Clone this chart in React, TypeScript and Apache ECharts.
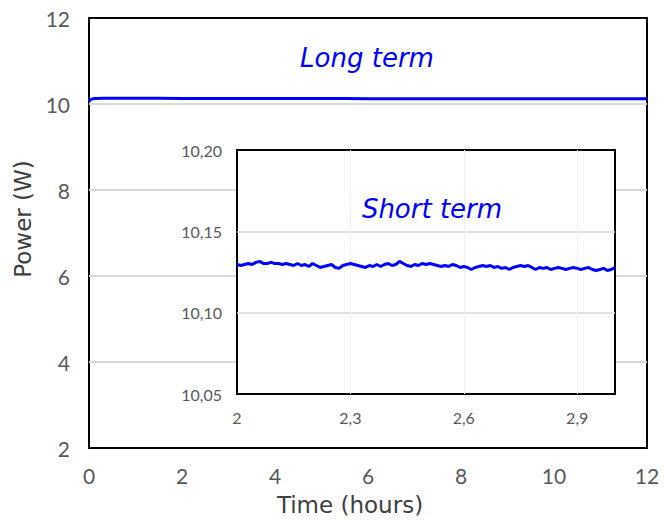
import React, { useEffect, useRef } from "react";
import * as echarts from "echarts";

// Long-term measurement (hours, W)
const longTimes = [0, 0.03, 0.08, 0.15, 0.3, 0.5, 1, 1.5, 2, 2.5, 3, 3.5, 4, 4.5, 5, 5.5, 6, 6.5, 7, 7.5, 8, 8.5, 9, 9.5, 10, 10.5, 11, 11.5, 12];
const longPower = [10.06, 10.1, 10.12, 10.13, 10.135, 10.134, 10.132, 10.131, 10.13, 10.129, 10.128, 10.128, 10.127, 10.127, 10.126, 10.126, 10.125, 10.125, 10.125, 10.124, 10.124, 10.124, 10.123, 10.123, 10.123, 10.123, 10.122, 10.122, 10.122];

// Short-term zoom (hours 2..3, step 0.01 h)
const shortStart = 2;
const shortStep = 0.01;
const shortPower = [
  10.1296, 10.129, 10.1296, 10.1302, 10.1296, 10.1309, 10.1315, 10.1302, 10.1302, 10.1309,
  10.1302, 10.1302, 10.1296, 10.1302, 10.1296, 10.129, 10.1302, 10.129, 10.1296, 10.1284,
  10.1302, 10.129, 10.1278, 10.1284, 10.129, 10.1296, 10.1278, 10.1272, 10.129, 10.1296,
  10.1302, 10.1296, 10.129, 10.1284, 10.1278, 10.129, 10.1284, 10.1296, 10.1284, 10.1296,
  10.1302, 10.129, 10.1296, 10.1315, 10.1302, 10.129, 10.1284, 10.1296, 10.129, 10.1302,
  10.1296, 10.1302, 10.1296, 10.129, 10.1284, 10.129, 10.1284, 10.1296, 10.129, 10.1278,
  10.1284, 10.1278, 10.1265, 10.1278, 10.1284, 10.129, 10.1284, 10.129, 10.1278, 10.1284,
  10.1272, 10.1278, 10.1265, 10.1278, 10.1284, 10.129, 10.1284, 10.129, 10.1278, 10.1265,
  10.1278, 10.1272, 10.1278, 10.1265, 10.1272, 10.1278, 10.1272, 10.1265, 10.1272, 10.1278,
  10.1272, 10.1265, 10.1272, 10.1278, 10.1265, 10.1259, 10.1265, 10.1272, 10.1259, 10.1265,
  10.1278,
];

const mainYTicks = [2, 12, 2]; // min, max, interval
const mainXTicks = [0, 12, 2];
const insetYTicks = [10.05, 10.2, 0.05];
const insetXTicks = [2, 3, 0.3];

const longLabel = "Long term";
const shortLabel = "Short term";
const yTitle = "Power (W)";
const xTitle = "Time (hours)";

const NUM_FONT = "Lato, 'Noto Sans', sans-serif";
const TXT_FONT = "'DejaVu Sans', 'Noto Sans', sans-serif";

export default function App() {
  const ref = useRef<HTMLDivElement>(null);
  useEffect(() => {
    if (!ref.current) return;
    const chart = echarts.init(ref.current, undefined, { renderer: "svg" });
    const longData = longTimes.map((t, i) => [t, longPower[i]]);
    const shortData = shortPower.map((v, i) => [+(shortStart + i * shortStep).toFixed(2), v]);
    const comma = (v: number, d: number) => (d === 0 ? String(v) : v.toFixed(d).replace(".", ","));
    const noMinMax = { showMinLine: false, showMaxLine: false };
    chart.setOption({
      animation: false,
      backgroundColor: "#fff",
      textStyle: { fontFamily: NUM_FONT },
      grid: [
        { left: 89, right: 23, top: 18, bottom: 71, show: true, borderColor: "#000", borderWidth: 2, backgroundColor: "transparent", z: 0 },
        { left: 237, right: 55, top: 150, bottom: 127, show: true, borderColor: "#000", borderWidth: 2, backgroundColor: "#fff", z: 3 },
      ],
      xAxis: [
        {
          type: "value", gridIndex: 0, min: mainXTicks[0], max: mainXTicks[1], interval: mainXTicks[2],
          axisLine: { show: false }, axisTick: { show: false }, splitLine: { show: false },
          axisLabel: { color: "#595959", fontSize: 21, margin: 17, fontFamily: NUM_FONT },
          name: xTitle, nameLocation: "middle", nameGap: 45,
          nameTextStyle: { color: "#404040", fontSize: 23, fontFamily: TXT_FONT, padding: [0, 36, 0, 0] },
        },
        {
          type: "value", gridIndex: 1, min: insetXTicks[0], max: insetXTicks[1], interval: insetXTicks[2], z: 4,
          axisLine: { show: false }, axisTick: { show: false },
          splitLine: { show: true, ...noMinMax, lineStyle: { color: "#f0f0f0", width: 1 } },
          axisLabel: { color: "#595959", fontSize: 16, margin: 15, fontFamily: NUM_FONT, showMaxLabel: false, formatter: (v: number) => comma(v, v === 2 ? 0 : 1) },
        },
      ],
      yAxis: [
        {
          type: "value", gridIndex: 0, min: mainYTicks[0], max: mainYTicks[1], interval: mainYTicks[2],
          axisLine: { show: false }, axisTick: { show: false },
          splitLine: { show: true, ...noMinMax, lineStyle: { color: "#d9d9d9", width: 2 } },
          axisLabel: { color: "#595959", fontSize: 21, margin: 19, fontFamily: NUM_FONT },
          name: yTitle, nameLocation: "middle", nameGap: 55,
          nameTextStyle: { color: "#404040", fontSize: 23, fontFamily: TXT_FONT, padding: [0, 0, 0, 28] },
        },
        {
          type: "value", gridIndex: 1, min: insetYTicks[0], max: insetYTicks[1], interval: insetYTicks[2], z: 4,
          axisLine: { show: false }, axisTick: { show: false },
          splitLine: { show: true, ...noMinMax, lineStyle: { color: "#d9d9d9", width: 1.5 } },
          axisLabel: { color: "#595959", fontSize: 16, margin: 15, fontFamily: NUM_FONT, formatter: (v: number) => comma(v, 2) },
        },
      ],
      series: [
        {
          type: "line", xAxisIndex: 0, yAxisIndex: 0, data: longData, showSymbol: false, z: 2,
          lineStyle: { color: "#0000ff", width: 3 },
        },
        {
          type: "line", xAxisIndex: 1, yAxisIndex: 1, data: shortData, showSymbol: false, z: 5,
          lineStyle: { color: "#0000ff", width: 3 },
        },
      ],
      graphic: [
        { type: "text", x: 367, y: 58, z: 6, style: { text: longLabel, fill: "#0000ff", font: `italic 26px ${TXT_FONT}`, textAlign: "center", textVerticalAlign: "middle" } },
        { type: "text", x: 432, y: 209, z: 6, style: { text: shortLabel, fill: "#0000ff", font: `italic 26px ${TXT_FONT}`, textAlign: "center", textVerticalAlign: "middle" } },
      ],
    });
    return () => chart.dispose();
  }, []);
  return <div ref={ref} style={{ position: "fixed", left: 0, top: 0, width: 670, height: 521 }} />;
}
